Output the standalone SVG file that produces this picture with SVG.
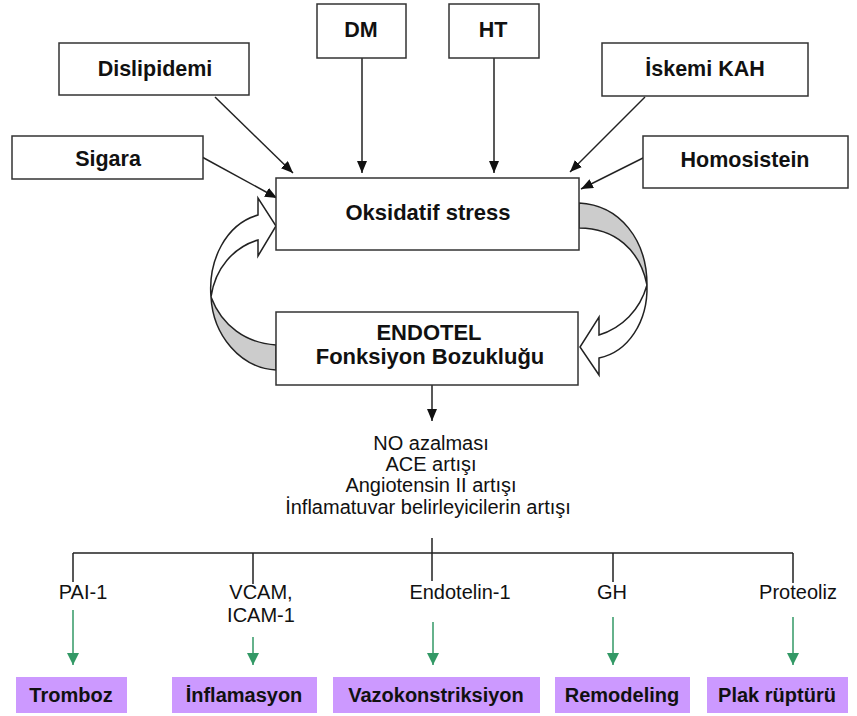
<svg xmlns="http://www.w3.org/2000/svg" width="857" height="716" viewBox="0 0 857 716">
<defs>
<style>
.box{fill:#fff;stroke:#333;stroke-width:1.5}
.pbox{fill:#cc99ff;stroke:none}
.b{font-family:"Liberation Sans",Arial,sans-serif;font-weight:bold;fill:#111;text-anchor:middle}
.r{font-family:"Liberation Sans",Arial,sans-serif;fill:#111;text-anchor:middle;font-size:20px}
.ln{stroke:#222;stroke-width:1.5;fill:none}
.gl{stroke:#339966;stroke-width:1.5;fill:none}
.cv{stroke:#222;stroke-width:1.5}
</style>
<marker id="ah" viewBox="0 0 12 10" refX="12" refY="5" markerWidth="12" markerHeight="10" markerUnits="userSpaceOnUse" orient="auto"><path d="M0,0 L12,5 L0,10 Z" fill="#111"/></marker>
<marker id="gh" viewBox="0 0 14 12" refX="12" refY="6" markerWidth="14" markerHeight="12" markerUnits="userSpaceOnUse" orient="auto"><path d="M0,0 L12,6 L0,12 Z" fill="#339966"/></marker>
</defs>

<g id="connectors">
<line class="ln" x1="215" y1="97" x2="293" y2="173" marker-end="url(#ah)"/>
<line class="ln" x1="202" y1="157" x2="277" y2="198" marker-end="url(#ah)"/>
<line class="ln" x1="362" y1="58" x2="362" y2="173" marker-end="url(#ah)"/>
<line class="ln" x1="494" y1="58" x2="494" y2="173" marker-end="url(#ah)"/>
<line class="ln" x1="645" y1="97" x2="570" y2="172" marker-end="url(#ah)"/>
<line class="ln" x1="645" y1="157" x2="581" y2="189" marker-end="url(#ah)"/>
<line class="ln" x1="432" y1="385" x2="432" y2="421" marker-end="url(#ah)"/>
<path class="ln" d="M432,538 V581 M73,553 H793 M73,553 V582 M253,553 V584 M613,553 V582 M793,553 V583"/>
<line class="gl" x1="73" y1="610" x2="73" y2="665" marker-end="url(#gh)"/>
<line class="gl" x1="253" y1="637" x2="253" y2="665" marker-end="url(#gh)"/>
<line class="gl" x1="433" y1="622" x2="433" y2="665" marker-end="url(#gh)"/>
<line class="gl" x1="613" y1="617" x2="613" y2="665" marker-end="url(#gh)"/>
<line class="gl" x1="793" y1="617" x2="793" y2="665" marker-end="url(#gh)"/>
<path class="cv" fill="#fff" d="M211,297 C208,260 226,224 258,215 L258,198 L276,226 L258,256 L258,240 C234,247 215,268 211,297 Z"/>
<path class="cv" fill="#cccccc" d="M211,297 C213,335 240,368 276,370 L276,345 C246,343 222,326 211,297 Z"/>
<path class="cv" fill="#cccccc" d="M579,203 C620,205 647,240 647,285 C640,250 615,228 579,228 Z"/>
<path class="cv" fill="#fff" d="M647,285 C648,322 628,352 599,358 L599,375 L580,347 L599,317 L599,335 C622,328 640,310 647,285 Z"/>
</g>

<g id="n-dm"><rect class="box" x="317" y="4" width="89" height="54"/><text class="b" x="361" y="37" font-size="21.5">DM</text></g>
<g id="n-ht"><rect class="box" x="449" y="4" width="90" height="54"/><text class="b" x="493" y="37" font-size="21.5">HT</text></g>
<g id="n-dislipidemi"><rect class="box" x="59" y="43" width="190" height="52"/><text class="b" x="155" y="76" font-size="21.5">Dislipidemi</text></g>
<g id="n-iskemi"><rect class="box" x="602" y="43" width="206" height="53"/><text class="b" x="705" y="76" font-size="21.5">İskemi KAH</text></g>
<g id="n-sigara"><rect class="box" x="12" y="136" width="191" height="43"/><text class="b" x="108" y="166" font-size="21.5">Sigara</text></g>
<g id="n-homosistein"><rect class="box" x="643" y="136" width="205" height="52"/><text class="b" x="745" y="167" font-size="21.5">Homosistein</text></g>
<g id="n-oksidatif"><rect class="box" x="276" y="178" width="303" height="72"/><text class="b" x="428" y="220" font-size="22">Oksidatif stress</text></g>
<g id="n-endotel"><rect class="box" x="276" y="312" width="302" height="73"/><text class="b" x="429" y="340" font-size="22">ENDOTEL</text><text class="b" x="430" y="364" font-size="22">Fonksiyon Bozukluğu</text></g>

<g id="n-effects">
<text class="r" x="431" y="450">NO azalması</text>
<text class="r" x="431" y="471">ACE artışı</text>
<text class="r" x="431" y="492">Angiotensin II artışı</text>
<text class="r" x="428" y="514">İnflamatuvar belirleyicilerin artışı</text>
</g>

<g id="n-pai"><text class="r" x="83" y="599">PAI-1</text></g>
<g id="n-vcam"><text class="r" x="261" y="599">VCAM,</text><text class="r" x="261" y="622">ICAM-1</text></g>
<g id="n-endotelin"><text class="r" x="460" y="599">Endotelin-1</text></g>
<g id="n-gh"><text class="r" x="612" y="599">GH</text></g>
<g id="n-proteoliz"><text class="r" x="798" y="599">Proteoliz</text></g>

<g id="n-tromboz"><rect class="pbox" x="16" y="677" width="111" height="36"/><text class="b" x="71" y="702" font-size="20">Tromboz</text></g>
<g id="n-inflamasyon"><rect class="pbox" x="172" y="677" width="145" height="36"/><text class="b" x="244" y="702" font-size="20">İnflamasyon</text></g>
<g id="n-vazo"><rect class="pbox" x="333" y="677" width="207" height="36"/><text class="b" x="436" y="702" font-size="20">Vazokonstriksiyon</text></g>
<g id="n-remodeling"><rect class="pbox" x="555" y="677" width="135" height="36"/><text class="b" x="622" y="702" font-size="20">Remodeling</text></g>
<g id="n-plak"><rect class="pbox" x="707" y="677" width="141" height="36"/><text class="b" x="777" y="702" font-size="20">Plak rüptürü</text></g>
</svg>
